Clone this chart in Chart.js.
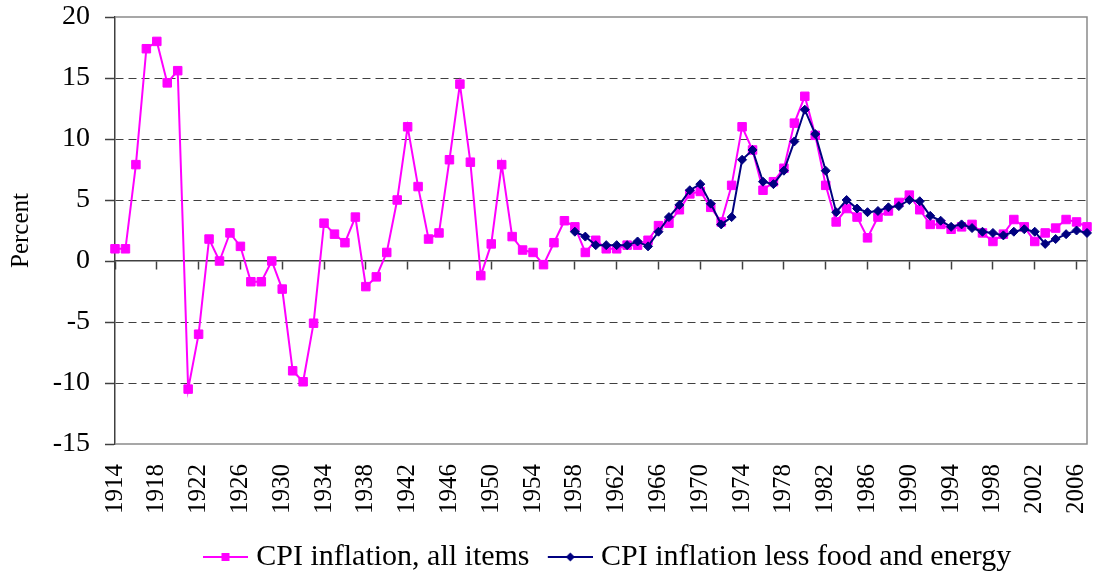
<!DOCTYPE html>
<html>
<head>
<meta charset="utf-8">
<script src="https://cdn.jsdelivr.net/npm/chart.js@4.4.0/dist/chart.umd.min.js"></script>
<style>
  html, body { margin: 0; padding: 0; background: #fff; }
  #wrap { width: 1094px; height: 578px; }
</style>
</head>
<body>
<div id="wrap"><canvas id="cpiChart" width="1094" height="578"></canvas></div>
<script>
// years on the x axis
const years = [
  1914, 1915, 1916, 1917, 1918, 1919, 1920, 1921, 1922, 1923,
  1924, 1925, 1926, 1927, 1928, 1929, 1930, 1931, 1932, 1933,
  1934, 1935, 1936, 1937, 1938, 1939, 1940, 1941, 1942, 1943,
  1944, 1945, 1946, 1947, 1948, 1949, 1950, 1951, 1952, 1953,
  1954, 1955, 1956, 1957, 1958, 1959, 1960, 1961, 1962, 1963,
  1964, 1965, 1966, 1967, 1968, 1969, 1970, 1971, 1972, 1973,
  1974, 1975, 1976, 1977, 1978, 1979, 1980, 1981, 1982, 1983,
  1984, 1985, 1986, 1987, 1988, 1989, 1990, 1991, 1992, 1993,
  1994, 1995, 1996, 1997, 1998, 1999, 2000, 2001, 2002, 2003,
  2004, 2005, 2006, 2007
];

// CPI inflation, all items (percent), 1914-2007
const cpiAll = [
  1.0, 1.0, 7.9, 17.4, 18.0, 14.6, 15.6, -10.5, -6.0, 1.8,
  0.0, 2.3, 1.2, -1.7, -1.7, 0.0, -2.3, -9.0, -9.9, -5.1,
  3.1, 2.2, 1.5, 3.6, -2.1, -1.3, 0.7, 5.0, 11.0, 6.1,
  1.8, 2.3, 8.3, 14.5, 8.1, -1.2, 1.4, 7.9, 2.0, 0.9,
  0.7, -0.3, 1.5, 3.3, 2.8, 0.7, 1.7, 1.0, 1.0, 1.3,
  1.3, 1.7, 2.9, 3.1, 4.2, 5.5, 5.7, 4.4, 3.2, 6.2,
  11.0, 9.1, 5.8, 6.5, 7.6, 11.3, 13.5, 10.3, 6.2, 3.2,
  4.3, 3.6, 1.9, 3.6, 4.1, 4.8, 5.4, 4.2, 3.0, 3.0,
  2.6, 2.8, 3.0, 2.3, 1.6, 2.2, 3.4, 2.8, 1.6, 2.3,
  2.7, 3.4, 3.2, 2.8
];

// CPI inflation less food and energy (percent), 1958-2007
const coreStart = 1958;
const cpiCore = [
  2.4, 2.0, 1.3, 1.3, 1.3, 1.3, 1.6, 1.2, 2.4, 3.6,
  4.6, 5.8, 6.3, 4.7, 3.0, 3.6, 8.3, 9.1, 6.5, 6.3,
  7.4, 9.8, 12.4, 10.4, 7.4, 4.0, 5.0, 4.3, 4.0, 4.1,
  4.4, 4.5, 5.0, 4.9, 3.7, 3.3, 2.8, 3.0, 2.7, 2.4,
  2.3, 2.1, 2.4, 2.6, 2.4, 1.4, 1.8, 2.2, 2.5, 2.3
];

const seriesNames = ["CPI inflation, all items", "CPI inflation less food and energy"];
const yTicks = [-15, -10, -5, 0, 5, 10, 15, 20];

const SERIF = "'Liberation Serif', 'Times New Roman', serif";
const PINK = "#FF00FF";
const NAVY = "#000080";
const AXIS = "#404040";

Chart.defaults.color = "#000";
Chart.defaults.font.family = SERIF;

// legend sample: short line with the marker in the middle
function legendIcon(color, shape) {
    const c = document.createElement("canvas");
    c.width = 64;
    c.height = 16;
    const g = c.getContext("2d");
    g.strokeStyle = color;
    g.fillStyle = color;
    g.lineWidth = 2;
    g.beginPath();
    g.moveTo(19, 8);
    g.lineTo(64, 8);
    g.stroke();
    g.beginPath();
    if (shape === "rect") {
        g.rect(37.5, 4, 8, 8);
    } else {
        g.moveTo(41.5, 3.5);
        g.lineTo(46, 8);
        g.lineTo(41.5, 12.5);
        g.lineTo(37, 8);
        g.closePath();
    }
    g.fill();
    return c;
}
const icons = [legendIcon(PINK, "rect"), legendIcon(NAVY, "rectRot")];

// grey frame round the plot area (left side is the y axis)
const frame = {
    id: "frame",
    beforeDatasetsDraw(chart) {
        const {ctx, chartArea: a} = chart;
        ctx.save();
        ctx.strokeStyle = "#8a8a8a";
        ctx.lineWidth = 1.5;
        ctx.beginPath();
        ctx.moveTo(a.left, a.top);
        ctx.lineTo(a.right, a.top);
        ctx.lineTo(a.right, a.bottom);
        ctx.lineTo(a.left, a.bottom);
        ctx.stroke();
        ctx.restore();
    }
};

new Chart(document.getElementById("cpiChart"), {
    type: "line",
    data: {
        labels: years.map(String),
        datasets: [
            {
                label: seriesNames[0],
                data: cpiAll,
                borderColor: PINK,
                backgroundColor: PINK,
                borderWidth: 2,
                pointStyle: "rect",
                pointRadius: 6,
                pointBorderWidth: 1,
                tension: 0,
                order: 1
            },
            {
                label: seriesNames[1],
                data: years.map(y => y < coreStart ? null : cpiCore[y - coreStart]),
                borderColor: NAVY,
                backgroundColor: NAVY,
                borderWidth: 2,
                pointStyle: "rectRot",
                pointRadius: 4.5,
                pointBorderWidth: 1,
                tension: 0,
                order: 0
            }
        ]
    },
    options: {
        responsive: false,
        animation: false,
        devicePixelRatio: 1,
        layout: { padding: { left: 2, right: 3, top: 1, bottom: -4 } },
        scales: {
            x: {
                type: "category",
                position: "bottom",
                grid: { display: false },
                border: { display: false },
                ticks: {
                    autoSkip: false,
                    minRotation: 90,
                    maxRotation: 90,
                    padding: 12,
                    font: { size: 25 },
                    callback: (v, i) => i % 4 === 0 ? String(years[i]) : ""
                },
                afterFit: s => { s.paddingLeft = 0; s.paddingRight = 0; s.height = 92; }
            },
            x2: {
                type: "category",
                axis: "x",
                position: { y: 0 },
                grid: {
                    drawOnChartArea: false,
                    drawTicks: true,
                    tickLength: 8,
                    tickWidth: 1.5,
                    tickColor: c => c.index % 4 === 0 ? AXIS : "rgba(0,0,0,0)"
                },
                border: { color: AXIS, width: 1.5 },
                ticks: { display: false }
            },
            y: {
                min: yTicks[0],
                max: yTicks[yTicks.length - 1],
                afterBuildTicks: s => { s.ticks = yTicks.map(v => ({ value: v })); },
                afterFit: s => { s.width = 113; s.paddingTop = 17; s.paddingBottom = 0; },
                ticks: { padding: 15, font: { size: 28 } },
                grid: {
                    color: c => (c.tick && [yTicks[0], 0, yTicks[yTicks.length - 1]].includes(c.tick.value)) ? "rgba(0,0,0,0)" : AXIS,
                    lineWidth: 1,
                    tickLength: 10,
                    tickColor: AXIS,
                    tickWidth: 1.5
                },
                border: { dash: [8, 5], color: AXIS, width: 1.5 },
                title: {
                    display: true,
                    text: "Percent",
                    font: { size: 25 },
                    padding: { top: 4, bottom: 17 }
                }
            }
        },
        plugins: {
            tooltip: { enabled: false },
            legend: {
                position: "bottom",
                fullSize: false,
                labels: {
                    usePointStyle: true,
                    pointStyleWidth: 50.5,
                    padding: 6,
                    font: { size: 30 },
                    color: "#000",
                    sort: (a, b) => a.datasetIndex - b.datasetIndex,
                    generateLabels: chart => {
                        const items = Chart.defaults.plugins.legend.labels.generateLabels(chart);
                        items.forEach(it => { it.pointStyle = icons[it.datasetIndex]; });
                        return items;
                    }
                }
            }
        }
    },
    plugins: [frame]
});
</script>
</body>
</html>
